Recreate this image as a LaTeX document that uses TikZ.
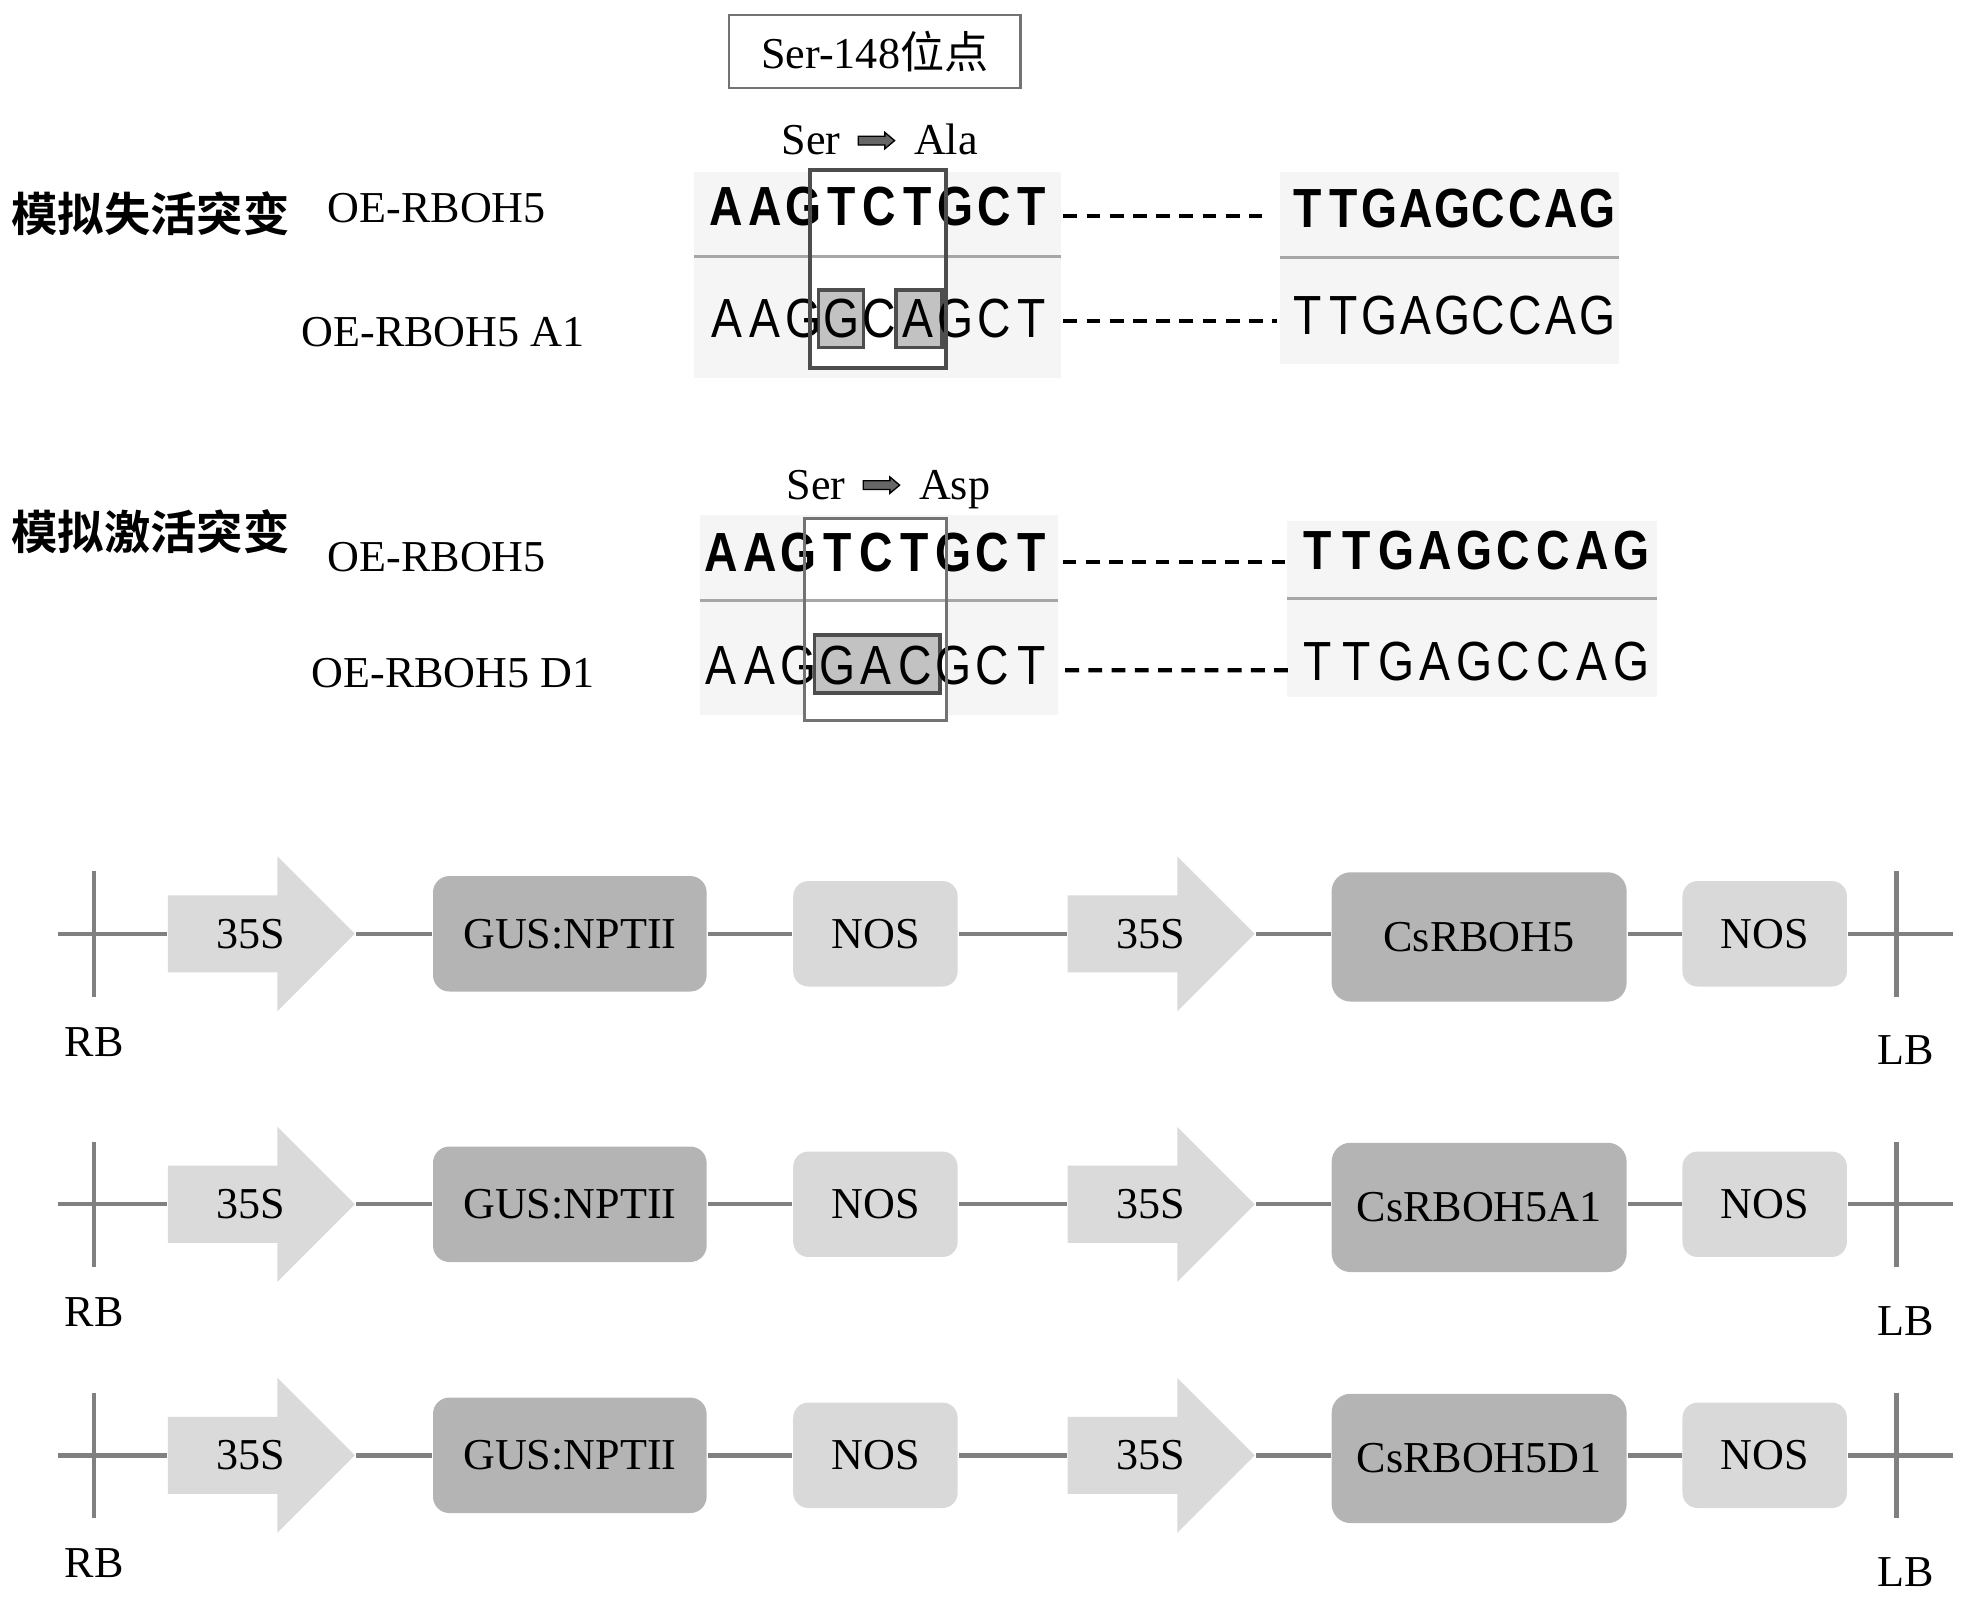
\documentclass[tikz,border=0pt]{standalone}
\usepackage{fontspec}
\setmainfont{Liberation Serif}
\newfontfamily\cjk{Noto Sans CJK SC}[BoldFont={Noto Sans CJK SC Bold}]
\newfontfamily\seqfont{Liberation Sans}[FakeStretch=0.84]
\usepackage{tikz}
\usetikzlibrary{positioning,shapes.arrows}
\definecolor{cpromo}{HTML}{DADADA}
\definecolor{cnos}{HTML}{D9D9D9}
\definecolor{cgene}{HTML}{B4B4B4}
\definecolor{cline}{HTML}{808080}
\definecolor{cpanel}{HTML}{F5F5F5}
\definecolor{cshade}{HTML}{C2C2C2}
\definecolor{cframe}{HTML}{4D4D4D}
\tikzset{
  lbl/.style={font=\fontsize{10}{12}\selectfont, inner sep=0pt},
  grp/.style={font=\cjk\bfseries\fontsize{10.5}{12}\selectfont, inner sep=0pt},
  seqb/.style={font=\seqfont\bfseries\fontsize{12.5}{14}\selectfont, inner sep=0pt},
  seqn/.style={font=\seqfont\fontsize{12.5}{14}\selectfont, inner sep=0pt},
  sitebox/.style={draw=black!55, line width=0.5pt, minimum width=2.32cm,
                  minimum height=0.58cm, inner sep=0pt, font=\fontsize{10}{12}\selectfont},
  subarr/.style={single arrow, fill=black!60, draw=black, line width=0.3pt,
                 minimum height=0.29cm, minimum width=0.12cm, inner sep=0pt,
                 single arrow head extend=0.03cm, single arrow tip angle=80},
  panel/.style={fill=cpanel},
  sepline/.style={draw=black!35, line width=0.7pt},
  frame/.style={draw=cframe, line width=0.9pt},
  mut/.style={fill=cshade, draw=cframe, line width=0.8pt},
  seqgap/.style={draw=black, line width=1pt, dash pattern=on 0.11cm off 0.075cm},
  bb/.style={draw=cline, line width=1pt},
  promo/.style={single arrow, fill=cpromo, inner sep=0pt, minimum height=1.49cm,
                minimum width=1.22cm, single arrow head extend=0.31cm,
                single arrow tip angle=90},
  gusbox/.style={rounded corners=0.13cm, fill=cgene, minimum width=2.18cm,
                 minimum height=0.92cm, inner sep=0pt, font=\fontsize{10}{12}\selectfont},
  genebox/.style={rounded corners=0.15cm, fill=cgene, minimum width=2.35cm,
                  minimum height=1.03cm, inner sep=0pt, font=\fontsize{10}{12}\selectfont},
  nosbox/.style={rounded corners=0.12cm, fill=cnos, minimum width=1.31cm,
                 minimum height=0.84cm, inner sep=0pt, font=\fontsize{10}{12}\selectfont},
}
\begin{document}
\begin{tikzpicture}

  \useasboundingbox (0,0) rectangle (15.68,-12.74);

  % site
  \node[sitebox] (site) at (6.97,-0.41) {Ser-148{\cjk 位点}};

  % loss-of-function mimic
  \node[grp] (gloss) at (1.20,-1.70) {模拟失活突变};
  \node[lbl] (wt1) at (3.48,-1.66) {OE-RBOH5};
  \node[lbl] (mA)  at (3.53,-2.65) {OE-RBOH5 A1};

  \node[lbl, anchor=base west] (serA) at (6.22,-1.235) {Ser};
  \node[subarr, right=0.13cm of serA] (arrA) {\rule{0pt}{0.6mm}};
  \node[lbl, anchor=base west] (ala) at ([xshift=0.14cm]arrA.east |- serA.base) {Ala};

  \fill[panel] (5.53,-1.37) rectangle (8.45,-3.01);
  \fill[panel] (10.20,-1.37) rectangle (12.90,-2.90);
  \fill[white] (6.45,-1.355) rectangle (7.54,-2.93);
  \draw[sepline] (5.53,-2.045) -- (8.45,-2.045);
  \draw[sepline] (10.20,-2.05) -- (12.90,-2.05);
  \draw[mut] (6.52,-2.31) rectangle (6.88,-2.77);
  \draw[mut] (7.14,-2.31) rectangle (7.505,-2.77);

  \foreach \c [count=\i] in {A,A,G,T,C,T,G,C,T}
    \node[seqb] (ua\i) at ({5.486+0.304*\i},-1.645) {\c};
  \foreach \c [count=\i] in {A,A,G,G,C,A,G,C,T}
    \node[seqn] (la\i) at ({5.486+0.304*\i},-2.535) {\c};
  \foreach \c [count=\i] in {T,T,G,A,G,C,C,A,G} {
    \node[seqb] (ub\i) at ({10.126+0.289*\i},-1.66) {\c};
    \node[seqn] (lb\i) at ({10.126+0.289*\i},-2.515) {\c};
  }
  \draw[frame] (6.45,-1.355) rectangle (7.54,-2.93);

  \draw[seqgap] ([shift={(0.13,-0.075)}]ua9.east) -- ([shift={(-0.24,-0.06)}]ub1.west);
  \draw[seqgap] ([shift={(0.13,-0.025)}]la9.east) -- ([shift={(-0.12,-0.045)}]lb1.west);

  % gain-of-function mimic
  \node[grp] (ggain) at (1.20,-4.24) {模拟激活突变};
  \node[lbl] (wt2) at (3.48,-4.44) {OE-RBOH5};
  \node[lbl] (mD)  at (3.61,-5.36) {OE-RBOH5 D1};

  \node[lbl, anchor=base west] (serD) at (6.26,-3.98) {Ser};
  \node[subarr, right=0.13cm of serD] (arrD) {\rule{0pt}{0.6mm}};
  \node[lbl, anchor=base west] (asp) at ([xshift=0.14cm]arrD.east |- serD.base) {Asp};

  \fill[panel] (5.58,-4.10) rectangle (8.43,-5.70);
  \fill[panel] (10.25,-4.15) rectangle (13.20,-5.55);
  \fill[white] (6.41,-4.13) rectangle (7.54,-5.74);
  \draw[sepline] (5.58,-4.785) -- (8.43,-4.785);
  \draw[sepline] (10.25,-4.77) -- (13.20,-4.77);
  \draw[mut] (6.49,-5.06) rectangle (7.49,-5.52);

  \foreach \c [count=\i] in {A,A,G,T,C,T,G,C,T}
    \node[seqb] (uc\i) at ({5.436+0.309*\i},-4.40) {\c};
  \foreach \c [count=\i] in {A,A,G,G,A,C,G,C,T}
    \node[seqn] (lc\i) at ({5.436+0.309*\i},-5.30) {\c};
  \foreach \c [count=\i] in {T,T,G,A,G,C,C,A,G} {
    \node[seqb] (ud\i) at ({10.188+0.312*\i},-4.385) {\c};
    \node[seqn] (ld\i) at ({10.188+0.312*\i},-5.27) {\c};
  }
  \draw[frame, draw=black!55, line width=0.7pt] (6.41,-4.13) rectangle (7.54,-5.74);

  \draw[seqgap] ([shift={(0.13,-0.08)}]uc9.east) -- ([shift={(-0.10,-0.095)}]ud1.west);
  \draw[seqgap] ([shift={(0.15,-0.04)}]lc9.east) -- ([shift={(-0.12,-0.07)}]ld1.west);

  % constructs
  \foreach \r/\ly/\gene in {1/7.44/CsRBOH5, 2/9.595/CsRBOH5A1, 3/11.595/CsRBOH5D1} {
    \coordinate (s\r) at (0.46,-\ly);
    \coordinate (e\r) at (15.56,-\ly);
    \coordinate (rbt\r) at (0.75,-\ly);
    \coordinate (lbt\r) at (15.11,-\ly);

    \node[promo, anchor=tail] (pa\r) at (1.33,-\ly) {\rule{0pt}{6mm}};
    \node[lbl] (pat\r) at (2.00,-\ly) {35S};
    \node[gusbox] (gus\r) at (4.54,-\ly) {GUS:NPTII};
    \node[nosbox] (nosa\r) at (6.975,-\ly) {NOS};
    \node[promo, anchor=tail] (pb\r) at (8.50,-\ly) {\rule{0pt}{6mm}};
    \node[lbl] (pbt\r) at (9.17,-\ly) {35S};
    \node[genebox] (gene\r) at (11.785,-\ly-0.025) {\gene};
    \node[nosbox] (nosb\r) at (14.06,-\ly) {NOS};

    \draw[bb] (s\r) -- (pa\r.tail) (pa\r.tip) -- (gus\r.west)
              (gus\r.east) -- (nosa\r.west) (nosa\r.east) -- (pb\r.tail)
              (pb\r.tip) -- (pb\r.tip -| gene\r.west)
              (gene\r.east |- s\r) -- (nosb\r.west) (nosb\r.east) -- (e\r);
    \draw[bb] ([yshift=5mm]rbt\r) -- ([yshift=-5mm]rbt\r);
    \draw[bb] ([yshift=5mm]lbt\r) -- ([yshift=-5mm]lbt\r);

    \node[lbl] (rb\r) at (0.75,-\ly-0.86) {RB};
    \node[lbl] (lb\r) at (15.18,-\ly-0.93) {LB};
  }

\end{tikzpicture}
\end{document}
